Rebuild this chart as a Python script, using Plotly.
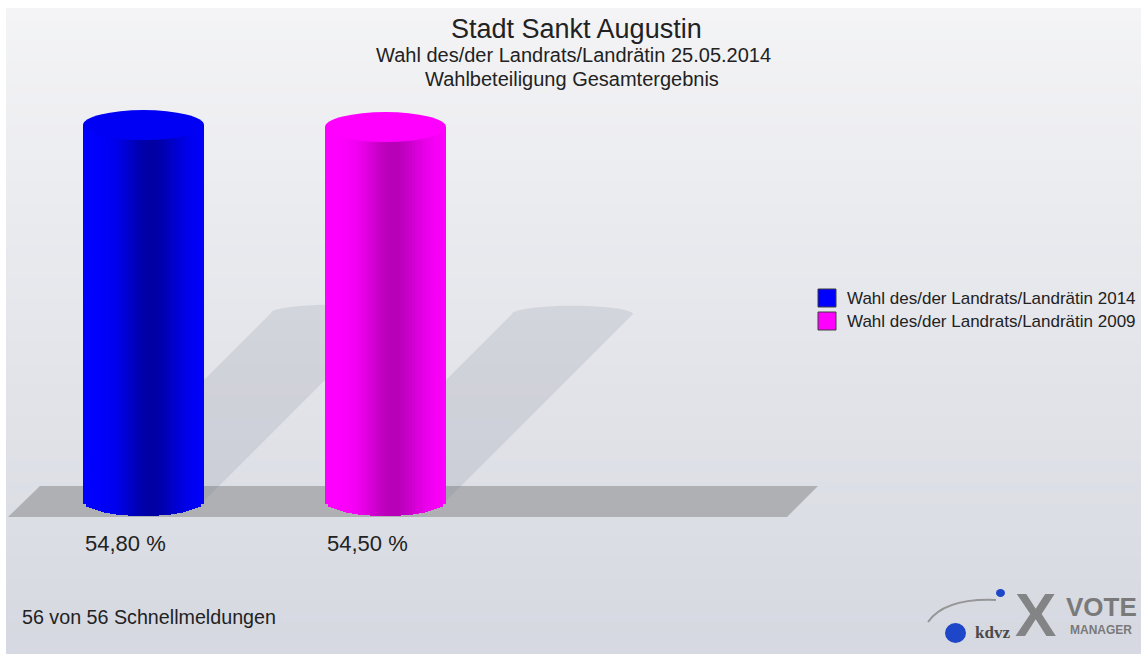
import numpy as np
import plotly.graph_objects as go

# ---------------- data ----------------
categories = ["Wahl des/der Landrats/Landrätin 2014", "Wahl des/der Landrats/Landrätin 2009"]
values = [54.80, 54.50]
value_labels = ["54,80 %", "54,50 %"]
base_colors = [(0, 0, 255), (255, 0, 255)]
top_colors = ["rgb(0,0,245)", "rgb(255,0,255)"]
shade_depth = [0.36, 0.28]

title = "Stadt Sankt Augustin"
subtitle1 = "Wahl des/der Landrats/Landrätin 25.05.2014"
subtitle2 = "Wahlbeteiligung Gesamtergebnis"
footer = "56 von 56 Schnellmeldungen"

# ---------------- geometry (screen pixels) ----------------
W, H = 1141, 654
XPX = 242.0                  # pixels per x unit
YPX = 6.861                  # pixels per y unit
BASE_PX = 501                # y pixel of value 0
C0_PX = 143.5                # x pixel of first category
x_range = [-C0_PX / XPX, (W - C0_PX) / XPX]
y_range = [-(H - BASE_PX) / YPX, BASE_PX / YPX]
BAR_W = 0.5
ELL = 15 / YPX
NSTRIP = 40
SHADOW_RATIO = 0.5
FONT = "Liberation Sans, Arial, Helvetica, sans-serif"
TXT = "#222222"


def sx(x):
    return x / W


def sy(y):
    return 1 - y / H


fig = go.Figure()
shapes = []

# background gradient (white frame at top/left like the original)
NB = 60
top_c = np.array([244, 244, 246])
bot_c = np.array([214, 217, 225])
Y0, X0 = 8, 6
for b in range(NB):
    t = b / (NB - 1)
    c = (top_c + (bot_c - top_c) * t).astype(int)
    ya = Y0 + (H - Y0) * b / NB
    yb = min(H, Y0 + (H - Y0) * (b + 1) / NB + 1)
    shapes.append(dict(type="rect", xref="paper", yref="paper", layer="below",
                       x0=sx(X0), x1=1, y0=sy(yb), y1=sy(ya),
                       fillcolor=f"rgb({c[0]},{c[1]},{c[2]})", line=dict(width=0)))

# floor
fl = [(40, 486), (818, 486), (787, 517), (8, 517)]
path = "M " + " L ".join(f"{sx(x):.5f},{sy(y):.5f}" for x, y in fl) + " Z"
shapes.append(dict(type="path", xref="paper", yref="paper", layer="below", path=path,
                   fillcolor="rgb(174,176,180)", line=dict(width=0)))

# shadows (computed from values)
for k, v in enumerate(values):
    h = SHADOW_RATIO * v
    dx = h * YPX / XPX
    pts = [(k - BAR_W / 2, 0), (k + BAR_W / 2, 0), (k + BAR_W / 2 + dx, h)]
    for th in np.linspace(0, np.pi, 25):
        pts.append((k + dx + BAR_W / 2 * np.cos(th), h + ELL * 0.55 * np.sin(th)))
    pts.append((k - BAR_W / 2 + dx, h))
    p = "M " + " L ".join(f"{x:.4f},{y:.4f}" for x, y in pts) + " Z"
    shapes.append(dict(type="path", xref="x", yref="y", layer="below", path=p,
                       fillcolor="rgba(120,125,140,0.17)", line=dict(width=0)))

# cylinder bodies as vertical strips of bars
for k, cat in enumerate(categories):
    r, g, b = base_colors[k]
    for i in range(NSTRIP):
        t = (i + 0.5) / NSTRIP
        u = 2 * t - 1
        f = 1 - shade_depth[k] * np.exp(-((t - 0.57) / 0.24) ** 2)
        col = f"rgb({int(r * f)},{int(g * f)},{int(b * f)})"
        base_i = -ELL * np.sqrt(max(0.0, 1 - u * u))
        fig.add_trace(go.Bar(
            x=[k], y=[values[k] - base_i], base=[base_i],
            width=BAR_W / NSTRIP * 1.2,
            offset=-BAR_W / 2 + i * BAR_W / NSTRIP - BAR_W / NSTRIP * 0.1,
            marker=dict(color=col, line=dict(width=0)),
            name=cat, legendgroup=cat, showlegend=False, hoverinfo="skip"))

# cylinder tops
for k, v in enumerate(values):
    shapes.append(dict(type="circle", xref="x", yref="y", layer="above",
                       x0=k - BAR_W / 2, x1=k + BAR_W / 2, y0=v - ELL, y1=v + ELL,
                       fillcolor=top_colors[k], line=dict(width=0)))

annotations = []
# value labels
for k, lab in enumerate(value_labels):
    annotations.append(dict(x=k - BAR_W / 2, y=-42 / YPX, xref="x", yref="y", text=lab,
                            showarrow=False, xanchor="left", yanchor="middle",
                            font=dict(family=FONT, size=22, color=TXT)))

# legend (manual, squares like the original)
for k, cat in enumerate(categories):
    cy = 298 + 23 * k
    r, g, b = base_colors[k]
    shapes.append(dict(type="rect", xref="paper", yref="paper", layer="above",
                       x0=sx(818), x1=sx(836), y0=sy(cy + 9), y1=sy(cy - 9),
                       fillcolor=f"rgb({r},{g},{b})", line=dict(color="rgb(60,60,60)", width=1)))
    annotations.append(dict(x=sx(845), y=sy(cy), xref="paper", yref="paper", text=cat,
                            showarrow=False, xanchor="left", yanchor="middle",
                            font=dict(family=FONT, size=17, color=TXT)))

# titles
annotations += [
    dict(x=sx(576), y=sy(29), xref="paper", yref="paper", text=title, showarrow=False,
         xanchor="center", yanchor="middle", font=dict(family=FONT, size=27, color=TXT)),
    dict(x=sx(573), y=sy(55), xref="paper", yref="paper", text=subtitle1, showarrow=False,
         xanchor="center", yanchor="middle", font=dict(family=FONT, size=20, color=TXT)),
    dict(x=sx(572), y=sy(79), xref="paper", yref="paper", text=subtitle2, showarrow=False,
         xanchor="center", yanchor="middle", font=dict(family=FONT, size=20, color=TXT)),
    dict(x=sx(20), y=sy(617), xref="paper", yref="paper", text=footer, showarrow=False,
         xanchor="left", yanchor="middle", font=dict(family=FONT, size=19.7, color=TXT)),
]

# logo (approximation)
shapes.append(dict(type="path", xref="paper", yref="paper", layer="above",
                   path=f"M {sx(928):.5f},{sy(622):.5f} Q {sx(945):.5f},{sy(598):.5f} {sx(996):.5f},{sy(600):.5f}",
                   line=dict(color="rgb(150,150,150)", width=2)))
shapes.append(dict(type="circle", xref="paper", yref="paper", layer="above",
                   x0=sx(945), x1=sx(966), y0=sy(643), y1=sy(623),
                   fillcolor="rgb(30,70,200)", line=dict(width=0)))
shapes.append(dict(type="circle", xref="paper", yref="paper", layer="above",
                   x0=sx(996), x1=sx(1005), y0=sy(597), y1=sy(589),
                   fillcolor="rgb(30,70,200)", line=dict(width=0)))
annotations += [
    dict(x=sx(992), y=sy(632), xref="paper", yref="paper", text="<b>kdvz</b>", showarrow=False,
         xanchor="center", yanchor="middle", font=dict(family="Liberation Serif, serif", size=17, color="#4a4a4a")),
    dict(x=sx(1035), y=sy(614), xref="paper", yref="paper", text="<b>X</b>", showarrow=False,
         xanchor="center", yanchor="middle", font=dict(family=FONT, size=62, color="rgba(110,110,110,0.8)")),
    dict(x=sx(1101), y=sy(607), xref="paper", yref="paper", text="<b>VOTE</b>", showarrow=False,
         xanchor="center", yanchor="middle", font=dict(family=FONT, size=26, color="#7a7a7a")),
    dict(x=sx(1101), y=sy(630), xref="paper", yref="paper", text="<b>MANAGER</b>", showarrow=False,
         xanchor="center", yanchor="middle", font=dict(family=FONT, size=12, color="#7a7a7a")),
]

fig.update_layout(
    width=W, height=H,
    margin=dict(l=0, r=0, t=0, b=0),
    paper_bgcolor="white", plot_bgcolor="rgba(0,0,0,0)",
    barmode="overlay", bargap=0,
    xaxis=dict(range=x_range, visible=False, fixedrange=True),
    yaxis=dict(range=y_range, visible=False, fixedrange=True),
    shapes=shapes, annotations=annotations,
    showlegend=False,
)

fig.write_html("out.html",
               config={"displayModeBar": False, "staticPlot": True},
               post_script="document.body.style.margin='0';document.body.style.overflow='hidden';")
